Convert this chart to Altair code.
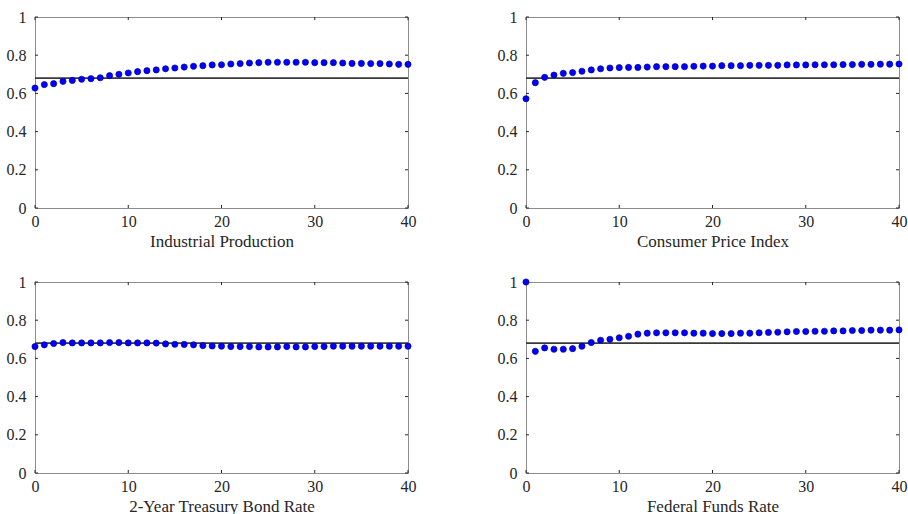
import altair as alt
import pandas as pd

horizons = list(range(41))

industrial_production = [0.628, 0.646, 0.651, 0.663, 0.668, 0.674, 0.677, 0.682, 0.693, 0.700,
                         0.707, 0.714, 0.719, 0.723, 0.729, 0.733, 0.738, 0.742, 0.745, 0.749,
                         0.750, 0.754, 0.756, 0.759, 0.761, 0.763, 0.763, 0.763, 0.763, 0.763,
                         0.761, 0.761, 0.761, 0.759, 0.757, 0.757, 0.756, 0.756, 0.754, 0.752,
                         0.752]
consumer_price_index = [0.572, 0.656, 0.684, 0.696, 0.705, 0.709, 0.716, 0.723, 0.729, 0.733,
                        0.735, 0.736, 0.736, 0.738, 0.740, 0.740, 0.740, 0.740, 0.742, 0.743,
                        0.743, 0.745, 0.745, 0.745, 0.747, 0.747, 0.747, 0.747, 0.749, 0.749,
                        0.749, 0.750, 0.750, 0.750, 0.751, 0.751, 0.752, 0.752, 0.753, 0.753,
                        0.754]
treasury_2y = [0.662, 0.671, 0.678, 0.683, 0.681, 0.681, 0.681, 0.681, 0.683, 0.683,
               0.681, 0.681, 0.681, 0.680, 0.676, 0.674, 0.673, 0.671, 0.667, 0.665,
               0.664, 0.662, 0.662, 0.662, 0.660, 0.660, 0.660, 0.662, 0.660, 0.660,
               0.662, 0.662, 0.664, 0.664, 0.664, 0.664, 0.664, 0.664, 0.664, 0.664,
               0.664]
federal_funds = [1.000, 0.637, 0.655, 0.648, 0.648, 0.651, 0.664, 0.683, 0.695, 0.700,
                 0.708, 0.716, 0.727, 0.732, 0.734, 0.734, 0.734, 0.734, 0.732, 0.732,
                 0.730, 0.730, 0.730, 0.732, 0.732, 0.734, 0.736, 0.737, 0.739, 0.741,
                 0.741, 0.742, 0.742, 0.744, 0.744, 0.746, 0.746, 0.748, 0.748, 0.748,
                 0.749]

titles = ["Industrial Production", "Consumer Price Index",
          "2-Year Treasury Bond Rate", "Federal Funds Rate"]
series = [industrial_production, consumer_price_index, treasury_2y, federal_funds]
reference_level = 0.68

x_ticks = [0, 10, 20, 30, 40]
y_ticks = [0, 0.2, 0.4, 0.6, 0.8, 1]

FONT = "Liberation Serif"
W, H = 373, 191


def panel(title, values):
    df = pd.DataFrame({"h": horizons, "v": values})
    xs = alt.Scale(domain=[0, 40], nice=False, zero=False)
    ys = alt.Scale(domain=[0, 1], nice=False, zero=False)
    xaxis = alt.Axis(values=x_ticks, title=title, tickSize=0, domain=False, grid=False,
                     labelPadding=5, titlePadding=4, format="d", labelFlush=False,
                     labelOverlap=False, labelFont=FONT, labelFontSize=16,
                     titleFont=FONT, titleFontSize=17)
    yaxis = alt.Axis(values=y_ticks, title=None, tickSize=0, domain=False, grid=False,
                     labelPadding=9, labelFlush=False, labelOverlap=False,
                     labelFont=FONT, labelFontSize=16,
                     labelExpr="datum.value == 0 ? '0' : datum.value == 1 ? '1' : format(datum.value, '.1f')")

    def X(f):
        return alt.X(f, scale=xs, axis=xaxis)

    def Y(f):
        return alt.Y(f, scale=ys, axis=yaxis)

    # inward ticks (bottom/top for x, left/right for y)
    xt = pd.DataFrame({"t": x_ticks, "lo": [0.0] * 5, "lo2": [0.016] * 5,
                       "hi": [1.0] * 5, "hi2": [0.984] * 5})
    yt = pd.DataFrame({"t": y_ticks, "l": [0.0] * 6, "l2": [0.32] * 6,
                       "r": [40.0] * 6, "r2": [39.68] * 6})
    tick_color = "#262626"
    xb = alt.Chart(xt).mark_rule(color=tick_color, strokeWidth=1).encode(
        x=X("t:Q"), y=Y("lo:Q"), y2="lo2:Q")
    xtop = alt.Chart(xt).mark_rule(color=tick_color, strokeWidth=1).encode(
        x=X("t:Q"), y=Y("hi:Q"), y2="hi2:Q")
    yl = alt.Chart(yt).mark_rule(color=tick_color, strokeWidth=1).encode(
        y=Y("t:Q"), x=X("l:Q"), x2="l2:Q")
    yr = alt.Chart(yt).mark_rule(color=tick_color, strokeWidth=1).encode(
        y=Y("t:Q"), x=X("r:Q"), x2="r2:Q")

    ref = alt.Chart(pd.DataFrame({"r": [reference_level]})).mark_rule(
        color="#3a3a3a", strokeWidth=1.6).encode(y=Y("r:Q"))
    pts = alt.Chart(df).mark_point(filled=True, size=38, fill="#0000ff", stroke="#0000a8",
                                   strokeWidth=0.7, opacity=1).encode(
        x=X("h:Q"), y=Y("v:Q"))
    return alt.layer(xb, xtop, yl, yr, ref, pts).properties(width=W, height=H)


p = [panel(t, s) for t, s in zip(titles, series)]
chart = alt.concat(*p, columns=2, spacing={"row": 74, "column": 118}, bounds="flush").properties(
    padding={"left": 5, "top": 8, "right": 0, "bottom": 0},
    background="white",
).configure_view(
    stroke="#8c8c8c", strokeWidth=1
).configure_axis(
    labelFont=FONT, titleFont=FONT, labelFontSize=16, titleFontSize=17,
    labelColor="#262626", titleColor="#262626", titleFontWeight="normal",
)

chart.save("out.html", embed_options={"renderer": "svg", "actions": False})
